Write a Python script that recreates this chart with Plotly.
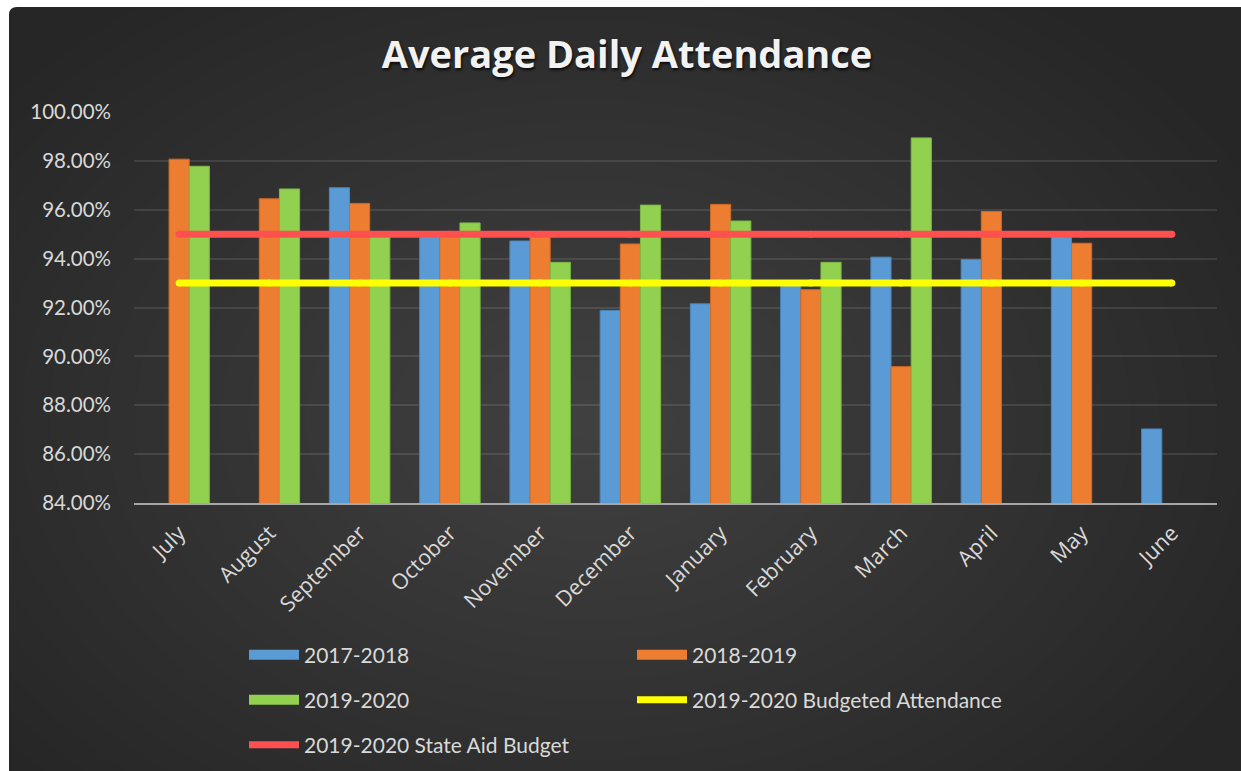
import plotly.graph_objects as go

months = ["July", "August", "September", "October", "November", "December",
          "January", "February", "March", "April", "May", "June"]
s2017_2018 = [None, None, 96.90, 94.95, 94.72, 91.88, 92.15, 92.95, 94.06, 93.96, 94.95, 87.03]
s2018_2019 = [98.07, 96.45, 96.26, 94.97, 94.98, 94.60, 96.22, 92.73, 89.58, 95.93, 94.63, 83.90]
s2019_2020 = [97.78, 96.85, 94.98, 95.46, 93.85, 96.19, 95.54, 93.85, 98.94, None, None, None]
budgeted_attendance = [93.0] * 12
state_aid_budget = [95.0] * 12
y_ticks = [84, 86, 88, 90, 92, 94, 96, 98, 100]
y_tick_labels = ["84.00%", "86.00%", "88.00%", "90.00%", "92.00%", "94.00%", "96.00%", "98.00%", "100.00%"]

W, H = 1241, 771
L, R, T, B = 134, 24, 112, 268
PW, PH = W - L - R, H - T - B

def px_x(px):
    return (px - L) / PW

def px_y(py):
    return (H - B - py) / PH

BLUE, ORANGE, GREEN = "#5B9BD5", "#ED7D31", "#92D050"
YELLOW, RED = "#FFFF00", "#FF5050"
TXT = "#D9D9D9"
FONT = "Lato"

fig = go.Figure()
bar_specs = [("2017-2018", s2017_2018, BLUE, "#4A86BD"),
             ("2018-2019", s2018_2019, ORANGE, "#D06A25"),
             ("2019-2020", s2019_2020, GREEN, "#7DB843")]
for name, vals, col, edge in bar_specs:
    fig.add_trace(go.Bar(x=months, y=vals, name=name, showlegend=False,
                         marker=dict(color=col, line=dict(color=edge, width=1))))

for name, vals, col in [("2019-2020 Budgeted Attendance", budgeted_attendance, YELLOW),
                        ("2019-2020 State Aid Budget", state_aid_budget, RED)]:
    fig.add_trace(go.Scatter(x=months, y=vals, name=name, mode="lines+markers",
                             line=dict(color=col, width=7),
                             marker=dict(color=col, size=7),
                             showlegend=False))

# legend entries (three rows, two columns)
legend_rows = [("legend", [("2017-2018", BLUE, 14), ("2018-2019", ORANGE, 14)], 655),
               ("legend2", [("2019-2020", GREEN, 14), ("2019-2020 Budgeted Attendance", YELLOW, 7)], 700),
               ("legend3", [("2019-2020 State Aid Budget", RED, 7)], 745)]
for lg, items, _ in legend_rows:
    for name, col, w in items:
        fig.add_trace(go.Scatter(x=[None], y=[None], mode="lines", name=name, legend=lg,
                                 line=dict(color=col, width=w), hoverinfo="skip"))

# background: dark panel with radial-ish glow
shapes = []
x0, y0 = 9, 7
r = 8
path = (f"M {px_x(x0)},{px_y(y0 + r)} Q {px_x(x0)},{px_y(y0)} {px_x(x0 + r)},{px_y(y0)} "
        f"L {px_x(W + 2)},{px_y(y0)} L {px_x(W + 2)},{px_y(H + 2)} L {px_x(x0)},{px_y(H + 2)} Z")
shapes.append(dict(type="path", xref="paper", yref="paper", path=path,
                   fillcolor="#262626", line=dict(width=0), layer="below"))
cx, cy = 590, 420
N = 26
for i in range(N):
    f = 1 - i / N
    rx, ry = 740 * f, 520 * f
    shapes.append(dict(type="circle", xref="paper", yref="paper",
                       x0=px_x(cx - rx), x1=px_x(cx + rx), y0=px_y(cy + ry), y1=px_y(cy - ry),
                       fillcolor="rgba(255,255,255,0.0088)", line=dict(width=0), layer="below"))

legend_common = dict(orientation="h", xref="container", yref="container",
                     xanchor="left", yanchor="middle", itemwidth=50,
                     entrywidthmode="pixels", entrywidth=323,
                     font=dict(family=FONT, size=21, color=TXT),
                     bgcolor="rgba(0,0,0,0)", itemclick=False, itemdoubleclick=False)
legend_layouts = {}
for lg, _, yc in legend_rows:
    legend_layouts[lg] = dict(legend_common, x=244 / W, y=1 - yc / H)

fig.update_layout(
    width=W, height=H,
    margin=dict(l=L, r=R, t=T, b=B),
    paper_bgcolor="white",
    plot_bgcolor="rgba(0,0,0,0)",
    barmode="group", bargap=0.33, bargroupgap=0,
    title=dict(text="Average Daily Attendance", x=627 / W, xanchor="center",
               y=1 - 55 / H, yanchor="middle", yref="container",
               font=dict(family="Open Sans", size=38, weight=700, color="#F2F2F2",
                         shadow="1px 2px 3px rgba(0,0,0,0.8)")),
    xaxis=dict(range=[-0.5, 11.5], showgrid=False, showline=True, linecolor="#A6A6A6", linewidth=2,
               ticks="", tickangle=-45, ticklabelstandoff=7,
               tickfont=dict(family="Open Sans", size=21.5, color=TXT)),
    yaxis=dict(range=[84, 100], tickvals=y_ticks, ticktext=y_tick_labels,
               showgrid=True, gridcolor="rgba(255,255,255,0.10)", gridwidth=1.5,
               zeroline=False, showline=False, ticks="", ticklabelstandoff=22,
               tickfont=dict(family=FONT, size=20.5, color=TXT)),
    shapes=shapes,
    showlegend=True,
    **legend_layouts,
)

fig.write_html("out.html")
